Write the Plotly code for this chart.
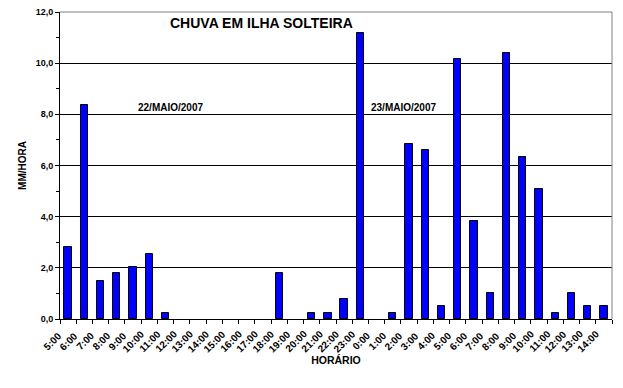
import plotly.graph_objects as go

hours = ["5:00", "6:00", "7:00", "8:00", "9:00", "10:00", "11:00", "12:00", "13:00",
         "14:00", "15:00", "16:00", "17:00", "18:00", "19:00", "20:00", "21:00",
         "22:00", "23:00", "0:00", "1:00", "2:00", "3:00", "4:00", "5:00", "6:00",
         "7:00", "8:00", "9:00", "10:00", "11:00", "12:00", "13:00", "14:00"]
rain_mm_h = [2.8, 8.35, 1.5, 1.78, 2.03, 2.53, 0.25, 0, 0,
             0, 0, 0, 0, 1.78, 0, 0.25, 0.25,
             0.77, 11.17, 0, 0.25, 6.85, 6.6, 0.5, 10.15, 3.83,
             1.0, 10.4, 6.35, 5.07, 0.25, 1.0, 0.5, 0.5]
y_ticks = [0, 2, 4, 6, 8, 10, 12]
y_tick_labels = ["0,0", "2,0", "4,0", "6,0", "8,0", "10,0", "12,0"]

idx = list(range(len(hours)))
FONT = "Liberation Sans, Arial, sans-serif"

fig = go.Figure(go.Bar(
    x=idx, y=rain_mm_h, width=0.45,
    marker=dict(color="#0000FF",
                line=dict(color="black", width=[1 if v > 0 else 0 for v in rain_mm_h])),
))

# the page body adds an 8px offset; compensate so the plot area lands where the reference has it
fig.update_layout(
    width=615, height=380,
    margin=dict(l=52, r=11, t=4, b=69),
    paper_bgcolor="white", plot_bgcolor="white",
    showlegend=False,
    font=dict(family=FONT, size=9, color="black", weight="bold"),
    bargap=0,
)

fig.update_xaxes(
    automargin=False,
    range=[-0.5, len(hours) - 0.5],
    tickmode="array", tickvals=idx, ticktext=hours, showticklabels=False,
    ticks="", showgrid=False,
    showline=True, linecolor="black", linewidth=1,
    minor=dict(tickmode="array", tickvals=[i - 0.5 for i in range(len(hours) + 1)],
               ticks="outside", ticklen=4, tickcolor="black", showgrid=False),
    title=dict(text="HORÁRIO", font=dict(size=10.5, family=FONT, weight="bold"), standoff=37),
    zeroline=False,
)
fig.update_yaxes(
    automargin=False,
    range=[0, 12],
    tickmode="array", tickvals=y_ticks, ticktext=y_tick_labels,
    ticks="outside", ticklen=4, tickcolor="black", ticklabeloverflow="allow",
    showgrid=True, gridcolor="black", gridwidth=1,
    showline=True, linecolor="black", linewidth=1,
    tickfont=dict(size=9, family=FONT, weight="bold"),
    minor=dict(tickmode="array", tickvals=[1, 3, 5, 7, 9, 11], ticks="outside",
               ticklen=3, tickcolor="black", showgrid=False),
    title=dict(text="MM/HORA", font=dict(size=10, family=FONT, weight="bold"), standoff=7),
    zeroline=False,
)

# Excel-style rotated category labels, centred below-left of each category
for i, lab in zip(idx, hours):
    fig.add_annotation(text=lab, x=i, xref="x", y=0, yref="paper",
                       xshift=-16, yshift=-22, xanchor="center", yanchor="middle",
                       textangle=-45, showarrow=False,
                       font=dict(size=10, family=FONT, weight="bold"))

# gray top and right frame
fig.add_shape(type="line", xref="paper", yref="paper", x0=0, x1=1, y0=1, y1=1,
              line=dict(color="#808080", width=1))
fig.add_shape(type="line", xref="paper", yref="paper", x0=1, x1=1, y0=0, y1=1,
              line=dict(color="#808080", width=1))

fig.add_annotation(text="CHUVA EM ILHA SOLTEIRA", xref="paper", x=(261 - 60) / 552,
                   xanchor="center", yref="y", y=11.56,
                   showarrow=False, font=dict(size=14, family=FONT, weight="bold"))
fig.add_annotation(text="22/MAIO/2007", xref="paper", x=(170 - 60) / 552, xanchor="center",
                   yref="y", y=8.25,
                   showarrow=False, font=dict(size=10, family=FONT, weight="bold"))
fig.add_annotation(text="23/MAIO/2007", xref="paper", x=(403 - 60) / 552, xanchor="center",
                   yref="y", y=8.25,
                   showarrow=False, font=dict(size=10, family=FONT, weight="bold"))

fig.write_html("out.html")
